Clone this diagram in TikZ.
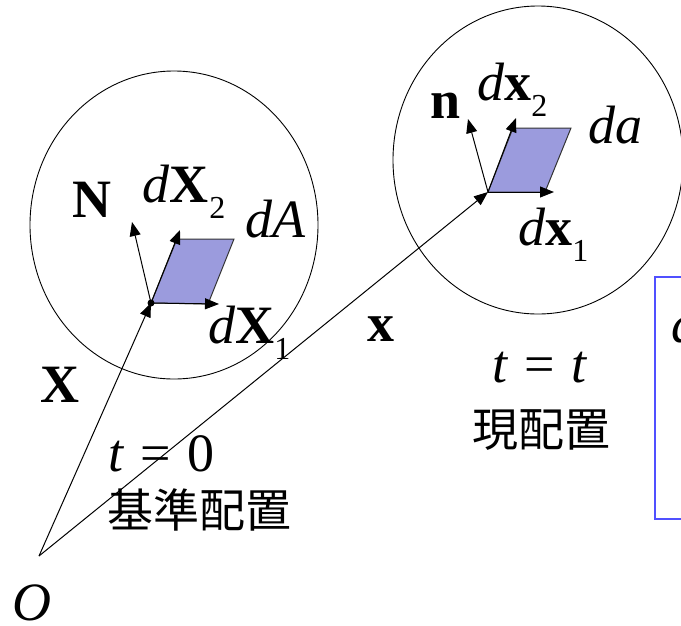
\documentclass[tikz,border=0pt]{standalone}
\usepackage{fontspec}
\setmainfont{Liberation Serif}
\newfontfamily\cjk{Noto Sans CJK JP}
\usetikzlibrary{arrows.meta}
\newcommand\sbs[1]{\raisebox{-16pt}{\fontsize{32}{32}\selectfont #1}}
\newcommand\eqsp{\hspace{0.3em}=\hspace{0.3em}}
\tikzset{
  vecarrow/.style={-{Triangle[length=14pt,width=11pt]}, line width=1pt},
  lbl/.style={font=\fontsize{54}{60}\selectfont, inner sep=0pt, anchor=base west},
  jp/.style={font=\cjk\fontsize{46}{50}\selectfont, inner sep=0pt, anchor=west},
  patch/.style={fill={rgb,255:red,155;green,155;blue,221}, draw=black!80, line width=1pt},
  region/.style={draw=black, line width=0.9pt},
  box/.style={draw={rgb,255:red,80;green,80;blue,255}, line width=1.5pt}
}
\begin{document}
\begin{tikzpicture}[x=1pt,y=-1pt]
\useasboundingbox (0,0) rectangle (681,625);
\clip (0,0) rectangle (681,625);
\fill[white] (0,0) rectangle (681,625);
% regions
\draw[region] (174,225) ellipse [x radius=144, y radius=154];
\draw[region] (538,160) ellipse [x radius=145, y radius=154];
% points
\coordinate (O) at (39,556);
\coordinate (BL) at (151,303);
\coordinate (BR) at (208,304);
\coordinate (TR) at (234,239);
\coordinate (TL) at (177,239);
\coordinate (bl) at (488,192);
\coordinate (br) at (545,192);
\coordinate (tr) at (571,128);
\coordinate (tl) at (513,128);
\coordinate (Ntip) at (132,222);
\coordinate (dX2tip) at (180,230);
\coordinate (dX1tip) at (219,304);
\coordinate (ntip) at (468,119);
\coordinate (dx2tip) at (516,118);
\coordinate (dx1tip) at (554,192);
% patches
\draw[patch] (BL) -- (BR) -- (TR) -- (TL) -- cycle;
\draw[patch] (bl) -- (br) -- (tr) -- (tl) -- cycle;
% vectors
\draw[vecarrow] (BL) -- (Ntip);
\draw[vecarrow] (BL) -- (dX2tip);
\draw[vecarrow] (BL) -- (dX1tip);
\draw[vecarrow] (bl) -- (ntip);
\draw[vecarrow] (bl) -- (dx2tip);
\draw[vecarrow] (bl) -- (dx1tip);
\fill (BL) circle (3.5);
\draw[vecarrow] (O) -- (BL);
\draw[vecarrow] (O) -- (bl);
% box
\draw[box] (655,277) rectangle (720,519);
\node[lbl] (boxd) at (671,342) {\textit{d}};
% labels
\node[lbl] (lN) at (72,217) {\textbf{N}};
\node[lbl] (ldX2) at (142,202) {\textit{d}\textbf{X}\hspace{1pt}\sbs{2}};
\node[lbl] (ldA) at (245,237) {\textit{dA}};
\node[lbl] (ldX1) at (208,343) {\textit{d}\textbf{X}\sbs{1}};
\node[lbl] (lX) at (40,402) {\textbf{X}};
\node[lbl] (lx) at (367,341) {\textbf{x}};
\node[lbl] (lt0) at (108,471) {\textit{t}\eqsp 0};
\node[jp] (lref) at (107,510) {基準配置};
\node[lbl] (ltt) at (492,382) {\textit{t}\eqsp\textit{t}};
\node[jp] (lcur) at (472,430) {現配置};
\node[lbl] (lO) at (12,620) {\textit{O}};
\node[lbl] (ln) at (430,118) {\textbf{n}};
\node[lbl] (ldx2) at (477,100) {\textit{d}\textbf{x}\sbs{2}};
\node[lbl] (lda) at (588,143) {\textit{da}};
\node[lbl] (ldx1) at (518,245) {\textit{d}\textbf{x}\sbs{1}};
\end{tikzpicture}
\end{document}
